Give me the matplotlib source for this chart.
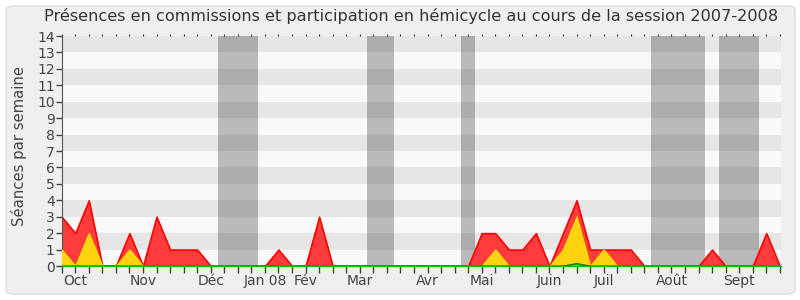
import matplotlib
matplotlib.use("Agg")
import matplotlib.pyplot as plt
from matplotlib.patches import FancyBboxPatch
import numpy as np

weeks = list(range(54))
total = [3, 2, 4, 0, 0, 2, 0, 3, 1, 1, 1, 0, 0, 0, 0, 0, 1, 0, 0, 3,
         0, 0, 0, 0, 0, 0, 0, 0, 0, 0, 0, 2, 2, 1, 1, 2, 0, 2, 4, 1,
         1, 1, 1, 0, 0, 0, 0, 0, 1, 0, 0, 0, 2, 0]
hemicycle = [1, 0, 2, 0, 0, 1, 0, 0, 0, 0, 0, 0, 0, 0, 0, 0, 0, 0, 0, 0,
             0, 0, 0, 0, 0, 0, 0, 0, 0, 0, 0, 0, 1, 0, 0, 0, 0, 1, 3, 0,
             1, 0, 0, 0, 0, 0, 0, 0, 0, 0, 0, 0, 0, 0]
questions = [0] * 38 + [0.15] + [0] * 15
month_pos = [1, 6, 11, 15, 18, 22, 27, 31, 36, 40, 45, 50]
month_labels = ["Oct", "Nov", "Déc", "Jan 08", "Fév", "Mar", "Avr", "Mai",
                "Juin", "Juil", "Août", "Sept"]
vacations = [(11.5, 14.5), (22.5, 24.5), (29.5, 30.5), (43.5, 47.5), (48.5, 51.5)]

fig = plt.figure(figsize=(8, 3), dpi=100)
fig.patch.set_facecolor("white")
frame = FancyBboxPatch((6 / 800, 6 / 300), 789 / 800, 288 / 300,
                       boxstyle="round,pad=0,rounding_size=0.012",
                       transform=fig.transFigure, facecolor="#efefef",
                       edgecolor="#dcdcdc", linewidth=1, zorder=-10)
fig.patches.append(frame)

ax = fig.add_axes([61.7 / 800, 1 - 266 / 300, (780.5 - 61.7) / 800, 230 / 300])
ax.set_facecolor("#f9f9f9")
ax.set_xlim(0, 53.05)
ax.set_ylim(0, 14)

for k in range(1, 14, 2):
    ax.axhspan(k, k + 1, color="#e6e6e6", lw=0, zorder=0)
for a, b in vacations:
    ax.axvspan(a, b, color="black", alpha=0.25, lw=0, zorder=1)

ax.fill_between(weeks, 0, total, facecolor="#ff3c3c", edgecolor="#ff0000",
                linewidth=1.2, zorder=2)
ax.fill_between(weeks, 0, hemicycle, facecolor="#ffd30f", edgecolor="#ffe000",
                linewidth=1.0, zorder=3)
ax.fill_between(weeks, 0, questions, facecolor="#22dd22", edgecolor="#11bb11",
                linewidth=1.0, zorder=4)
ax.plot(weeks, questions, color="#117711", lw=0.8, zorder=5)

ax.set_xticks(weeks)
labels = [""] * len(weeks)
for p, l in zip(month_pos, month_labels):
    labels[p] = l
ax.set_xticklabels(labels)
ax.set_yticks(range(15))
ax.tick_params(axis="x", length=5, width=1, color="#444444", labelsize=10,
               labelcolor="#444444", pad=1)
ax.tick_params(axis="y", length=4, width=1, color="#444444", labelsize=10,
               labelcolor="#444444", pad=1)

sec = ax.secondary_xaxis("top")
sec.set_xticks(weeks)
sec.set_xticklabels([])
sec.tick_params(length=1.5, width=0.8, color="#333333")
sec.spines["top"].set_visible(False)

for s in ["top", "right"]:
    ax.spines[s].set_visible(False)
ax.spines["left"].set_color("#555555")
ax.spines["bottom"].set_color("#555555")

ax.set_ylabel("Séances par semaine", fontsize=10.7, color="#444444")
ax.yaxis.set_label_coords(-0.048, 0.52)
fig.text(0.514, 0.945, "Présences en commissions et participation en hémicycle au cours de la session 2007-2008",
         ha="center", va="center", fontsize=11.6, color="#333333")

fig.savefig("out.png", dpi=100, facecolor=fig.get_facecolor())
